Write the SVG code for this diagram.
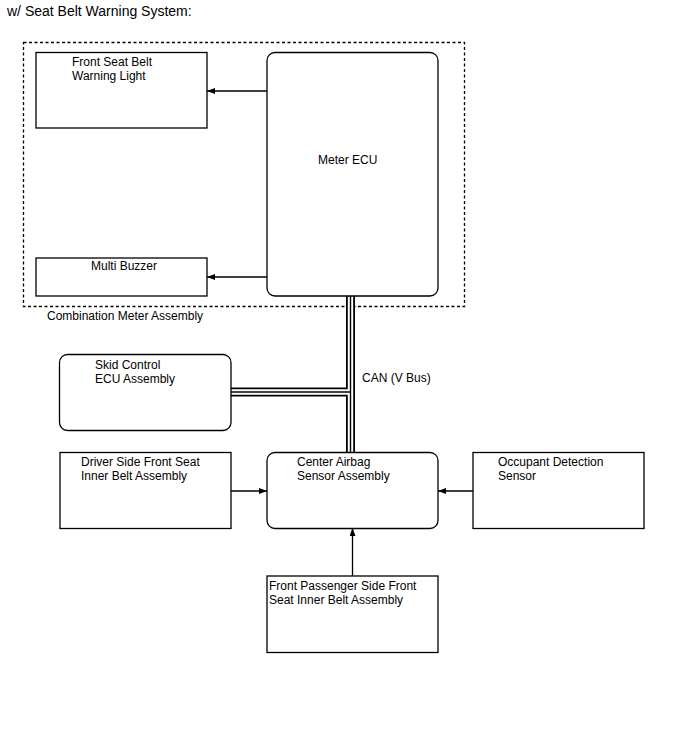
<svg xmlns="http://www.w3.org/2000/svg" width="688" height="755" viewBox="0 0 688 755">
<defs>
<marker id="ah" markerWidth="8" markerHeight="6" refX="8" refY="3" orient="auto" markerUnits="userSpaceOnUse">
<path d="M0,0 L8,3 L0,6 Z" fill="#000"/>
</marker>
<style>
text{font-family:"Liberation Sans",Arial,sans-serif;font-size:12px;fill:#000}
.box{fill:#fff;stroke:#000;stroke-width:1.3}
.dash{fill:none;stroke:#000;stroke-width:1.3;stroke-dasharray:3,2.5}
.arr{fill:none;stroke:#000;stroke-width:1.3;marker-end:url(#ah)}
.busO{fill:none;stroke:#000;stroke-width:9}
.busW{fill:none;stroke:#fff;stroke-width:5.4}
.busC{fill:none;stroke:#000;stroke-width:1.4}
</style>
</defs>
<rect width="688" height="755" fill="#fff"/>
<text x="7" y="16" style="font-size:14px">w/ Seat Belt Warning System:</text>
<g id="combination-meter">
<rect class="dash" x="23.5" y="42.5" width="441" height="264"/>
<text x="47" y="320">Combination Meter Assembly</text>
</g>
<g id="connectors">
<path class="busO" d="M350.5,296 V452 M231,392 H350.5"/>
<path class="busW" d="M350.5,296 V452 M231,392 H350.5"/>
<path class="busC" d="M350.5,296 V452 M231,392 H350.5"/>
<line class="arr" x1="267" y1="91" x2="207" y2="91"/>
<line class="arr" x1="267" y1="277" x2="207" y2="277"/>
<line class="arr" x1="231" y1="491" x2="267" y2="491"/>
<line class="arr" x1="473" y1="491" x2="438" y2="491"/>
<line class="arr" x1="352.5" y1="576" x2="352.5" y2="528"/>
<text x="362" y="382">CAN (V Bus)</text>
</g>
<g id="front-seat-belt-warning-light">
<rect class="box" x="36" y="52.5" width="171" height="75.5"/>
<text x="72" y="66">Front Seat Belt</text>
<text x="72" y="80">Warning Light</text>
</g>
<g id="meter-ecu">
<rect class="box" x="267" y="52.5" width="171" height="243.5" rx="8"/>
<text x="318" y="164">Meter ECU</text>
</g>
<g id="multi-buzzer">
<rect class="box" x="36" y="258" width="171" height="38"/>
<text x="91" y="270">Multi Buzzer</text>
</g>
<g id="skid-control-ecu">
<rect class="box" x="59.5" y="354.5" width="171.5" height="76" rx="8"/>
<text x="95" y="369">Skid Control</text>
<text x="95" y="383">ECU Assembly</text>
</g>
<g id="driver-side-belt">
<rect class="box" x="60" y="452.5" width="171" height="76"/>
<text x="81" y="466">Driver Side Front Seat</text>
<text x="81" y="480">Inner Belt Assembly</text>
</g>
<g id="center-airbag-sensor">
<rect class="box" x="267" y="452.5" width="171" height="76" rx="8"/>
<text x="297" y="466">Center Airbag</text>
<text x="297" y="480">Sensor Assembly</text>
</g>
<g id="occupant-detection-sensor">
<rect class="box" x="473" y="452.5" width="171" height="76"/>
<text x="498" y="466">Occupant Detection</text>
<text x="498" y="480">Sensor</text>
</g>
<g id="front-passenger-belt">
<rect class="box" x="267" y="576" width="171" height="76.5"/>
<text x="269" y="590">Front Passenger Side Front</text>
<text x="269" y="604">Seat Inner Belt Assembly</text>
</g>
</svg>
